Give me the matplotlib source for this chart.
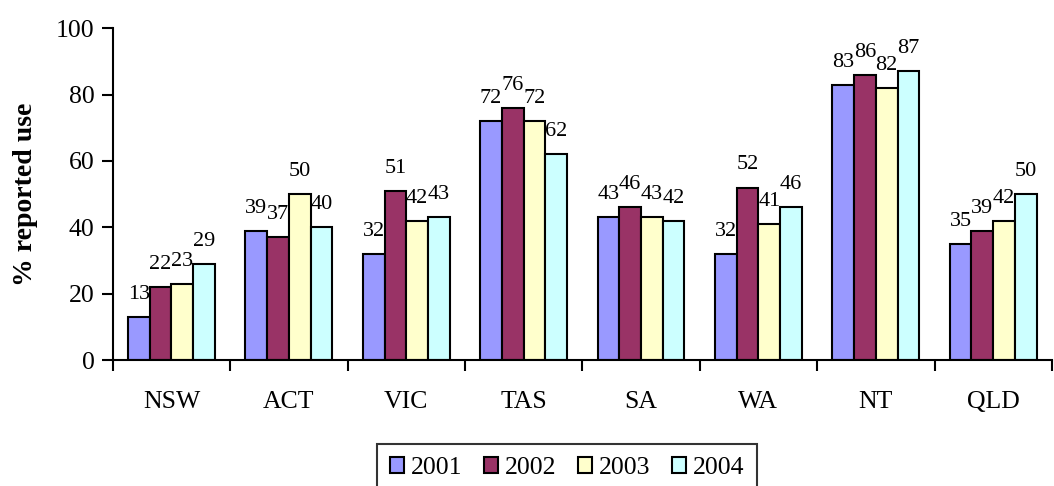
import matplotlib.pyplot as plt
import numpy as np

plt.rcParams['font.family'] = ['Liberation Serif', 'DejaVu Serif']

states = ["NSW", "ACT", "VIC", "TAS", "SA", "WA", "NT", "QLD"]
years = ["2001", "2002", "2003", "2004"]
v2001 = [13, 39, 32, 72, 43, 32, 83, 35]
v2002 = [22, 37, 51, 76, 46, 52, 86, 39]
v2003 = [23, 50, 42, 72, 43, 41, 82, 42]
v2004 = [29, 40, 43, 62, 42, 46, 87, 50]
colors = ["#9999FF", "#993366", "#FFFFCC", "#CCFFFF"]

fig = plt.figure(figsize=(10.54, 4.86), dpi=100)
ax = fig.add_axes([0.107, 0.259, 0.891, 0.683])

x = np.arange(len(states))
w = 0.185
for i, (vals, c, yr) in enumerate(zip([v2001, v2002, v2003, v2004], colors, years)):
    pos = x + (i - 1.5) * w
    ax.bar(pos, vals, w, color=c, edgecolor="black", linewidth=1.5, label=yr)
    for px, v in zip(pos, vals):
        ax.annotate(str(v), (px, v), xytext=(0, 13), textcoords="offset points",
                    ha="center", va="baseline", fontsize=16)

ax.set_xlim(-0.5, len(states) - 0.5)
ax.set_ylim(0, 100)
ax.set_yticks([0, 20, 40, 60, 80, 100])
ax.set_xticks(x)
ax.set_xticklabels(states)
ax.set_xticks(np.arange(len(states) + 1) - 0.5, minor=True)
ax.tick_params(axis="x", which="major", length=0, pad=22, labelsize=18.5)
ax.tick_params(axis="x", which="minor", length=8, width=1.5)
ax.tick_params(axis="y", length=8, width=1.5, labelsize=18.5, pad=5)
for s in ["top", "right"]:
    ax.spines[s].set_visible(False)
ax.spines["left"].set_linewidth(1.5)
ax.spines["bottom"].set_linewidth(1.5)
ax.set_ylabel("% reported use", fontsize=20, fontweight="bold", labelpad=13)

leg = fig.legend(loc="lower center", bbox_to_anchor=(0.538, -0.012), ncol=4,
                 fontsize=18.5, frameon=True, fancybox=False, handlelength=0.55,
                 handleheight=0.55, handletextpad=0.25, columnspacing=0.85,
                 borderpad=0.5, borderaxespad=0)
leg.get_frame().set_edgecolor("black")
leg.get_frame().set_linewidth(1.5)

fig.savefig("out.png", dpi=100)
